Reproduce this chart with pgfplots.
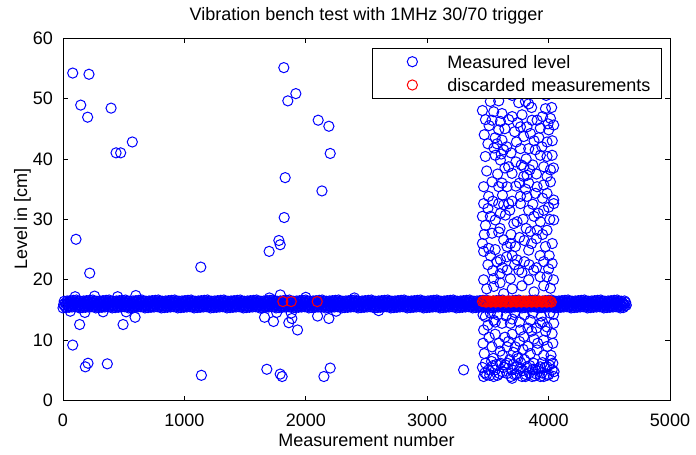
\documentclass[border=0pt]{standalone}
\usepackage{fontspec}
\setmainfont{Liberation Sans}
\usepackage{pgfplots}
\pgfplotsset{compat=1.18}
\definecolor{mblue}{RGB}{0,0,255}
\definecolor{mred}{RGB}{255,0,0}
\pgfplotsset{
  mylegimg/.style={legend image code/.code={\path[draw=none,fill=none] (0bp,-5bp) rectangle (58bp,5bp); \draw[##1] plot coordinates {(33.6bp,0bp)};}},
  bluemark/.style={mblue, only marks, mark=o, mark size=5.1bp, line width=1bp, mylegimg},
  redmark/.style={mred, only marks, mark=o, mark size=5.1bp, line width=1bp, mylegimg},
}
\begin{document}
\fontsize{18bp}{21bp}\selectfont
\begin{tikzpicture}
\useasboundingbox (0,0) rectangle (696bp,455bp);
\begin{axis}[
  at={(63bp,54.3bp)}, anchor=south west,
  scale only axis, width=607bp, height=362.7bp,
  xmin=0, xmax=5000, ymin=0, ymax=60,
  xtick={0,1000,2000,3000,4000,5000}, ytick={0,10,20,30,40,50,60},
  scaled ticks=false,
  tick align=inside, major tick length=5bp,
  axis line style={line width=0.8bp, black},
  every tick/.style={black, line width=0.7bp},
  /pgf/number format/assume math mode=true,
  /pgf/number format/1000 sep={},
  ticklabel style={font=\fontsize{18bp}{21bp}\selectfont, inner sep=0pt},
  xticklabel style={yshift=-12.6bp},
  yticklabel style={xshift=-10bp},
  title={Vibration bench test with 1MHz 30/70 trigger},
  title style={at={(axis description cs:0.5,1.0331)}, anchor=base, yshift=0pt, inner sep=0pt, font=\fontsize{18bp}{21bp}\selectfont},
  xlabel={Measurement number},
  xlabel style={at={(axis description cs:0.5,-0.1268)}, anchor=base, inner sep=0pt, font=\fontsize{18bp}{21bp}\selectfont},
  ylabel={Level in [cm]},
  ylabel style={at={(axis description cs:-0.0593,0.5)}, anchor=base, inner sep=0pt, font=\fontsize{18bp}{21bp}\selectfont},
  legend cell align=left,
  legend style={at={(axis description cs:0.98633,0.97326)}, anchor=north east,
    draw=black, line width=0.7bp, fill=white,
    inner xsep=6bp, inner ysep=3.9bp, row sep=3.8bp,
    font=\fontsize{18bp}{21bp}\selectfont,
    nodes={inner sep=0pt, text height=16.5bp, text depth=3bp, text width=208bp, align=left},
    /tikz/every odd column/.style={column sep=10.6bp},
    /tikz/every even column/.style={column sep=0pt}},
]
% main band
\addplot[bluemark] coordinates {
(0,15.35)(5,15.90)(10,16.45)(15,15.65)(20,16.20)(25,15.40)(30,15.95)(35,16.50)(40,15.70)(45,16.25)(50,15.45)(55,16.00)(60,16.55)(65,15.75)(70,16.30)(75,15.50)(80,16.05)(85,16.60)(90,15.80)(95,16.35)(100,15.55)(105,16.10)(110,16.65)(115,15.85)(120,16.40)(125,15.60)(130,16.15)
(135,15.35)(140,15.90)(145,16.45)(150,15.65)(155,16.20)(160,15.40)(165,15.95)(170,16.50)(175,15.70)(180,16.25)(185,15.45)(190,16.00)(195,16.55)(200,15.75)(205,16.30)(210,15.50)(215,16.05)(220,16.60)(225,15.80)(230,16.35)(235,15.55)(240,16.10)(245,16.65)(250,15.85)(255,16.40)(260,15.60)(265,16.15)
(270,15.35)(275,15.90)(280,16.45)(285,15.65)(290,16.20)(295,15.40)(300,15.95)(305,16.50)(310,15.70)(315,16.25)(320,15.45)(325,16.00)(330,16.55)(335,15.75)(340,16.30)(345,15.50)(350,16.05)(355,16.60)(360,15.80)(365,16.35)(370,15.55)(375,16.10)(380,16.65)(385,15.85)(390,16.40)(395,15.60)(400,16.15)
(405,15.35)(410,15.90)(415,16.45)(420,15.65)(425,16.20)(430,15.40)(435,15.95)(440,16.50)(445,15.70)(450,16.25)(455,15.45)(460,16.00)(465,16.55)(470,15.75)(475,16.30)(480,15.50)(485,16.05)(490,16.60)(495,15.80)(500,16.35)(505,15.55)(510,16.10)(515,16.65)(520,15.85)(525,16.40)(530,15.60)(535,16.15)
(540,15.35)(545,15.90)(550,16.45)(555,15.65)(560,16.20)(565,15.40)(570,15.95)(575,16.50)(580,15.70)(585,16.25)(590,15.45)(595,16.00)(600,16.55)(605,15.75)(610,16.30)(615,15.50)(620,16.05)(625,16.60)(630,15.80)(635,16.35)(640,15.55)(645,16.10)(650,16.65)(655,15.85)(660,16.40)(665,15.60)(670,16.15)
(675,15.35)(680,15.90)(685,16.45)(690,15.65)(695,16.20)(700,15.40)(705,15.95)(710,16.50)(715,15.70)(720,16.25)(725,15.45)(730,16.00)(735,16.55)(740,15.75)(745,16.30)(750,15.50)(755,16.05)(760,16.60)(765,15.80)(770,16.35)(775,15.55)(780,16.10)(785,16.65)(790,15.85)(795,16.40)(800,15.60)(805,16.15)
(810,15.35)(815,15.90)(820,16.45)(825,15.65)(830,16.20)(835,15.40)(840,15.95)(845,16.50)(850,15.70)(855,16.25)(860,15.45)(865,16.00)(870,16.55)(875,15.75)(880,16.30)(885,15.50)(890,16.05)(895,16.60)(900,15.80)(905,16.35)(910,15.55)(915,16.10)(920,16.65)(925,15.85)(930,16.40)(935,15.60)(940,16.15)
(945,15.35)(950,15.90)(955,16.45)(960,15.65)(965,16.20)(970,15.40)(975,15.95)(980,16.50)(985,15.70)(990,16.25)(995,15.45)(1000,16.00)(1005,16.55)(1010,15.75)(1015,16.30)(1020,15.50)(1025,16.05)(1030,16.60)(1035,15.80)(1040,16.35)(1045,15.55)(1050,16.10)(1055,16.65)(1060,15.85)(1065,16.40)(1070,15.60)(1075,16.15)
(1080,15.35)(1085,15.90)(1090,16.45)(1095,15.65)(1100,16.20)(1105,15.40)(1110,15.95)(1115,16.50)(1120,15.70)(1125,16.25)(1130,15.45)(1135,16.00)(1140,16.55)(1145,15.75)(1150,16.30)(1155,15.50)(1160,16.05)(1165,16.60)(1170,15.80)(1175,16.35)(1180,15.55)(1185,16.10)(1190,16.65)(1195,15.85)(1200,16.40)(1205,15.60)(1210,16.15)
(1215,15.35)(1220,15.90)(1225,16.45)(1230,15.65)(1235,16.20)(1240,15.40)(1245,15.95)(1250,16.50)(1255,15.70)(1260,16.25)(1265,15.45)(1270,16.00)(1275,16.55)(1280,15.75)(1285,16.30)(1290,15.50)(1295,16.05)(1300,16.60)(1305,15.80)(1310,16.35)(1315,15.55)(1320,16.10)(1325,16.65)(1330,15.85)(1335,16.40)(1340,15.60)(1345,16.15)
(1350,15.35)(1355,15.90)(1360,16.45)(1365,15.65)(1370,16.20)(1375,15.40)(1380,15.95)(1385,16.50)(1390,15.70)(1395,16.25)(1400,15.45)(1405,16.00)(1410,16.55)(1415,15.75)(1420,16.30)(1425,15.50)(1430,16.05)(1435,16.60)(1440,15.80)(1445,16.35)(1450,15.55)(1455,16.10)(1460,16.65)(1465,15.85)(1470,16.40)(1475,15.60)(1480,16.15)
(1485,15.35)(1490,15.90)(1495,16.45)(1500,15.65)(1505,16.20)(1510,15.40)(1515,15.95)(1520,16.50)(1525,15.70)(1530,16.25)(1535,15.45)(1540,16.00)(1545,16.55)(1550,15.75)(1555,16.30)(1560,15.50)(1565,16.05)(1570,16.60)(1575,15.80)(1580,16.35)(1585,15.55)(1590,16.10)(1595,16.65)(1600,15.85)(1605,16.40)(1610,15.60)(1615,16.15)
(1620,15.35)(1625,15.90)(1630,16.45)(1635,15.65)(1640,16.20)(1645,15.40)(1650,15.95)(1655,16.50)(1660,15.70)(1665,16.25)(1670,15.45)(1675,16.00)(1680,16.55)(1685,15.75)(1690,16.30)(1695,15.50)(1700,16.05)(1705,16.60)(1710,15.80)(1715,16.35)(1720,15.55)(1725,16.10)(1730,16.65)(1735,15.85)(1740,16.40)(1745,15.60)(1750,16.15)
(1755,15.35)(1760,15.90)(1765,16.45)(1770,15.65)(1775,16.20)(1780,15.40)(1785,15.95)(1790,16.50)(1795,15.70)(1800,16.25)(1805,15.45)(1810,16.00)(1815,16.55)(1820,15.75)(1825,16.30)(1830,15.50)(1835,16.05)(1840,16.60)(1845,15.80)(1850,16.35)(1855,15.55)(1860,16.10)(1865,16.65)(1870,15.85)(1875,16.40)(1880,15.60)(1885,16.15)
(1890,15.35)(1895,15.90)(1900,16.45)(1905,15.65)(1910,16.20)(1915,15.40)(1920,15.95)(1925,16.50)(1930,15.70)(1935,16.25)(1940,15.45)(1945,16.00)(1950,16.55)(1955,15.75)(1960,16.30)(1965,15.50)(1970,16.05)(1975,16.60)(1980,15.80)(1985,16.35)(1990,15.55)(1995,16.10)(2000,16.65)(2005,15.85)(2010,16.40)(2015,15.60)(2020,16.15)
(2025,15.35)(2030,15.90)(2035,16.45)(2040,15.65)(2045,16.20)(2050,15.40)(2055,15.95)(2060,16.50)(2065,15.70)(2070,16.25)(2075,15.45)(2080,16.00)(2085,16.55)(2090,15.75)(2095,16.30)(2100,15.50)(2105,16.05)(2110,16.60)(2115,15.80)(2120,16.35)(2125,15.55)(2130,16.10)(2135,16.65)(2140,15.85)(2145,16.40)(2150,15.60)(2155,16.15)
(2160,15.35)(2165,15.90)(2170,16.45)(2175,15.65)(2180,16.20)(2185,15.40)(2190,15.95)(2195,16.50)(2200,15.70)(2205,16.25)(2210,15.45)(2215,16.00)(2220,16.55)(2225,15.75)(2230,16.30)(2235,15.50)(2240,16.05)(2245,16.60)(2250,15.80)(2255,16.35)(2260,15.55)(2265,16.10)(2270,16.65)(2275,15.85)(2280,16.40)(2285,15.60)(2290,16.15)
(2295,15.35)(2300,15.90)(2305,16.45)(2310,15.65)(2315,16.20)(2320,15.40)(2325,15.95)(2330,16.50)(2335,15.70)(2340,16.25)(2345,15.45)(2350,16.00)(2355,16.55)(2360,15.75)(2365,16.30)(2370,15.50)(2375,16.05)(2380,16.60)(2385,15.80)(2390,16.35)(2395,15.55)(2400,16.10)(2405,16.65)(2410,15.85)(2415,16.40)(2420,15.60)(2425,16.15)
(2430,15.35)(2435,15.90)(2440,16.45)(2445,15.65)(2450,16.20)(2455,15.40)(2460,15.95)(2465,16.50)(2470,15.70)(2475,16.25)(2480,15.45)(2485,16.00)(2490,16.55)(2495,15.75)(2500,16.30)(2505,15.50)(2510,16.05)(2515,16.60)(2520,15.80)(2525,16.35)(2530,15.55)(2535,16.10)(2540,16.65)(2545,15.85)(2550,16.40)(2555,15.60)(2560,16.15)
(2565,15.35)(2570,15.90)(2575,16.45)(2580,15.65)(2585,16.20)(2590,15.40)(2595,15.95)(2600,16.50)(2605,15.70)(2610,16.25)(2615,15.45)(2620,16.00)(2625,16.55)(2630,15.75)(2635,16.30)(2640,15.50)(2645,16.05)(2650,16.60)(2655,15.80)(2660,16.35)(2665,15.55)(2670,16.10)(2675,16.65)(2680,15.85)(2685,16.40)(2690,15.60)(2695,16.15)
(2700,15.35)(2705,15.90)(2710,16.45)(2715,15.65)(2720,16.20)(2725,15.40)(2730,15.95)(2735,16.50)(2740,15.70)(2745,16.25)(2750,15.45)(2755,16.00)(2760,16.55)(2765,15.75)(2770,16.30)(2775,15.50)(2780,16.05)(2785,16.60)(2790,15.80)(2795,16.35)(2800,15.55)(2805,16.10)(2810,16.65)(2815,15.85)(2820,16.40)(2825,15.60)(2830,16.15)
(2835,15.35)(2840,15.90)(2845,16.45)(2850,15.65)(2855,16.20)(2860,15.40)(2865,15.95)(2870,16.50)(2875,15.70)(2880,16.25)(2885,15.45)(2890,16.00)(2895,16.55)(2900,15.75)(2905,16.30)(2910,15.50)(2915,16.05)(2920,16.60)(2925,15.80)(2930,16.35)(2935,15.55)(2940,16.10)(2945,16.65)(2950,15.85)(2955,16.40)(2960,15.60)(2965,16.15)
(2970,15.35)(2975,15.90)(2980,16.45)(2985,15.65)(2990,16.20)(2995,15.40)(3000,15.95)(3005,16.50)(3010,15.70)(3015,16.25)(3020,15.45)(3025,16.00)(3030,16.55)(3035,15.75)(3040,16.30)(3045,15.50)(3050,16.05)(3055,16.60)(3060,15.80)(3065,16.35)(3070,15.55)(3075,16.10)(3080,16.65)(3085,15.85)(3090,16.40)(3095,15.60)(3100,16.15)
(3105,15.35)(3110,15.90)(3115,16.45)(3120,15.65)(3125,16.20)(3130,15.40)(3135,15.95)(3140,16.50)(3145,15.70)(3150,16.25)(3155,15.45)(3160,16.00)(3165,16.55)(3170,15.75)(3175,16.30)(3180,15.50)(3185,16.05)(3190,16.60)(3195,15.80)(3200,16.35)(3205,15.55)(3210,16.10)(3215,16.65)(3220,15.85)(3225,16.40)(3230,15.60)(3235,16.15)
(3240,15.35)(3245,15.90)(3250,16.45)(3255,15.65)(3260,16.20)(3265,15.40)(3270,15.95)(3275,16.50)(3280,15.70)(3285,16.25)(3290,15.45)(3295,16.00)(3300,16.55)(3305,15.75)(3310,16.30)(3315,15.50)(3320,16.05)(3325,16.60)(3330,15.80)(3335,16.35)(3340,15.55)(3345,16.10)(3350,16.65)(3355,15.85)(3360,16.40)(3365,15.60)(3370,16.15)
(3375,15.35)(3380,15.90)(3385,16.45)(3390,15.65)(3395,16.20)(3400,15.40)(3405,15.95)(3410,16.50)(3415,15.70)(3420,16.25)(3425,15.45)(3430,16.00)(3435,16.55)(3440,15.75)(3445,16.30)(3450,15.50)(3455,16.05)(3460,16.60)(3465,15.80)(3470,16.35)(3475,15.55)(3480,16.10)(3485,16.65)(3490,15.85)(3495,16.40)(3500,15.60)(3505,16.15)
(3510,15.35)(3515,15.90)(3520,16.45)(3525,15.65)(3530,16.20)(3535,15.40)(3540,15.95)(3545,16.50)(3550,15.70)(3555,16.25)(3560,15.45)(3565,16.00)(3570,16.55)(3575,15.75)(3580,16.30)(3585,15.50)(3590,16.05)(3595,16.60)(3600,15.80)(3605,16.35)(3610,15.55)(3615,16.10)(3620,16.65)(3625,15.85)(3630,16.40)(3635,15.60)(3640,16.15)
(3645,15.35)(3650,15.90)(3655,16.45)(3660,15.65)(3665,16.20)(3670,15.40)(3675,15.95)(3680,16.50)(3685,15.70)(3690,16.25)(3695,15.45)(3700,16.00)(3705,16.55)(3710,15.75)(3715,16.30)(3720,15.50)(3725,16.05)(3730,16.60)(3735,15.80)(3740,16.35)(3745,15.55)(3750,16.10)(3755,16.65)(3760,15.85)(3765,16.40)(3770,15.60)(3775,16.15)
(3780,15.35)(3785,15.90)(3790,16.45)(3795,15.65)(3800,16.20)(3805,15.40)(3810,15.95)(3815,16.50)(3820,15.70)(3825,16.25)(3830,15.45)(3835,16.00)(3840,16.55)(3845,15.75)(3850,16.30)(3855,15.50)(3860,16.05)(3865,16.60)(3870,15.80)(3875,16.35)(3880,15.55)(3885,16.10)(3890,16.65)(3895,15.85)(3900,16.40)(3905,15.60)(3910,16.15)
(3915,15.35)(3920,15.90)(3925,16.45)(3930,15.65)(3935,16.20)(3940,15.40)(3945,15.95)(3950,16.50)(3955,15.70)(3960,16.25)(3965,15.45)(3970,16.00)(3975,16.55)(3980,15.75)(3985,16.30)(3990,15.50)(3995,16.05)(4000,16.60)(4005,15.80)(4010,16.35)(4015,15.55)(4020,16.10)(4025,16.65)(4030,15.85)(4035,16.40)(4040,15.60)(4045,16.15)
(4050,15.35)(4055,15.90)(4060,16.45)(4065,15.65)(4070,16.20)(4075,15.40)(4080,15.95)(4085,16.50)(4090,15.70)(4095,16.25)(4100,15.45)(4105,16.00)(4110,16.55)(4115,15.75)(4120,16.30)(4125,15.50)(4130,16.05)(4135,16.60)(4140,15.80)(4145,16.35)(4150,15.55)(4155,16.10)(4160,16.65)(4165,15.85)(4170,16.40)(4175,15.60)(4180,16.15)
(4185,15.35)(4190,15.90)(4195,16.45)(4200,15.65)(4205,16.20)(4210,15.40)(4215,15.95)(4220,16.50)(4225,15.70)(4230,16.25)(4235,15.45)(4240,16.00)(4245,16.55)(4250,15.75)(4255,16.30)(4260,15.50)(4265,16.05)(4270,16.60)(4275,15.80)(4280,16.35)(4285,15.55)(4290,16.10)(4295,16.65)(4300,15.85)(4305,16.40)(4310,15.60)(4315,16.15)
(4320,15.35)(4325,15.90)(4330,16.45)(4335,15.65)(4340,16.20)(4345,15.40)(4350,15.95)(4355,16.50)(4360,15.70)(4365,16.25)(4370,15.45)(4375,16.00)(4380,16.55)(4385,15.75)(4390,16.30)(4395,15.50)(4400,16.05)(4405,16.60)(4410,15.80)(4415,16.35)(4420,15.55)(4425,16.10)(4430,16.65)(4435,15.85)(4440,16.40)(4445,15.60)(4450,16.15)
(4455,15.35)(4460,15.90)(4465,16.45)(4470,15.65)(4475,16.20)(4480,15.40)(4485,15.95)(4490,16.50)(4495,15.70)(4500,16.25)(4505,15.45)(4510,16.00)(4515,16.55)(4520,15.75)(4525,16.30)(4530,15.50)(4535,16.05)(4540,16.60)(4545,15.80)(4550,16.35)(4555,15.55)(4560,16.10)(4565,16.65)(4570,15.85)(4575,16.40)(4580,15.60)(4585,16.15)
(4590,15.35)(4595,15.90)(4600,16.45)(4605,15.65)(4610,16.20)(4615,15.40)(4620,15.95)(4625,16.50)(4630,15.70)(4635,16.25)(4640,15.80)
};
\addlegendentry{Measured level}
% outliers, early part
\addplot[bluemark, forget plot] coordinates {
(80,54.2)(214,54.0)(146,48.9)(203,46.9)(396,48.4)(437,41.0)(475,41.0)(571,42.8)
(107,26.7)(220,21.1)(137,12.6)(80,9.2)(184,5.6)(206,6.2)(365,6.1)(495,12.6)(594,13.8)
(100,17.2)(180,14.6)(260,17.3)(330,14.7)(450,17.2)(600,17.4)(520,14.7)(60,14.8)
(1135,22.1)(1140,4.2)
(1819,55.1)(1918,50.8)(1852,49.6)(2102,46.4)(2190,45.4)(2201,40.9)(1830,36.9)(2133,34.7)
(1822,30.3)(1778,26.5)(1789,25.8)(1698,24.7)
(1679,5.2)(1789,4.4)(1805,4.0)(2149,4.0)(2201,5.4)
(1660,13.8)(1734,13.1)(1860,12.9)(1932,11.7)(2097,14.0)(2190,13.6)(1885,13.6)
(1790,17.5)(1700,17.0)(1880,14.5)(2000,17.1)(2250,14.8)(2400,17.0)(2600,14.9)(1760,14.6)
(3300,5.1)
};
% dense cloud, upper part
\addplot[bluemark, forget plot] coordinates {
(3540,51.0)(3700,50.5)(3850,51.5)(3980,50.5)
(3520,49.5)(3589,49.6)(3754,49.3)(3809,49.5)(3836,49.1)(3974,48.3)(3548,47.8)(3616,47.5)
(3534,46.4)(3603,46.2)(3671,46.5)(3781,47.3)(3768,45.3)(3822,45.3)(3864,46.4)(3905,46.4)
(4015,46.7)(4042,45.6)(3589,44.8)(3616,43.1)(3795,43.7)(3850,44.2)(3932,45.1)(4001,44.8)
(3987,42.8)(3768,41.7)(3836,41.7)(3630,41.5)(3479,40.4)(3561,40.6)(3603,39.8)(3671,38.7)
(3932,40.6)(3987,40.4)(4029,40.6)(3795,38.7)(3699,37.6)(3822,37.3)(3960,38.7)(4015,38.2)
(3987,37.1)(3465,35.4)(3534,36.2)(3589,35.4)(3616,36.0)(3658,35.4)(3795,37.1)(3836,36.0)
(3905,35.4)(3960,35.7)(4015,36.2)(3506,33.8)(3589,32.6)(3630,32.4)(3671,32.6)(3768,33.8)
(3822,33.8)(3891,34.3)(3987,34.3)(4042,33.2)(3465,32.6)(3768,32.6)(3836,31.5)(3603,31.0)
(3644,30.7)(3561,29.9)(3713,29.3)(3740,29.6)(3960,31.5)(4042,32.6)(4042,29.9)(3905,28.2)
(3987,28.2)(3932,29.6)(3534,27.7)(3589,27.9)(3630,26.6)(3685,26.0)(3726,25.5)(3465,24.7)
(3506,25.2)(3658,25.5)(3836,24.9)(3974,25.5)(3603,23.3)(3740,23.3)(3465,20.0)(3548,20.2)
(3658,21.6)(3685,20.2)(3754,21.6)(3877,21.6)(3987,20.5)(4029,22.7)(4015,18.6)(3630,17.7)
(3548,18.9)(3836,20.0)
(3470,44.0)(3500,42.5)(3560,43.5)(3640,45.0)(3700,47.0)(3720,44.5)(3745,46.0)(3860,48.5)
(3880,43.0)(3950,47.0)(4030,43.0)(3490,38.0)(3580,37.5)(3640,38.5)(3730,39.5)(3760,36.0)
(3870,39.0)(3900,37.5)(4040,38.5)(3480,29.0)(3520,30.5)(3600,28.5)(3680,31.5)(3790,30.0)
(3850,28.0)(3880,30.5)(4010,30.0)(3470,27.5)(3560,25.0)(3700,24.0)(3800,26.5)(3860,26.0)
(3930,24.0)(4030,26.0)(3500,22.5)(3620,22.0)(3720,22.5)(3800,23.0)(3900,22.0)(3960,23.0)
(3490,18.5)(3600,19.5)(3700,18.5)(3780,19.0)(3880,18.0)(3960,19.0)(4040,20.0)
(3455,48.0)(3480,46.5)(3510,45.5)(3550,41.8)(3575,42.5)(3610,40.8)(3655,42.0)(3690,41.0)
(3735,42.8)(3775,39.0)(3815,40.0)(3845,38.2)(3890,41.5)(3920,43.5)(3945,42.0)(3995,45.8)
(4025,48.5)(3455,30.5)(3500,31.8)(3540,33.0)(3620,34.0)(3700,33.0)(3730,35.5)(3810,35.0)
(3870,32.5)(3915,31.0)(3950,33.5)(4000,32.0)(3455,26.0)(3520,24.0)(3575,23.0)(3655,23.8)
(3690,27.5)(3760,27.0)(3815,28.5)(3900,26.8)(3950,27.5)(4005,24.0)(3540,21.5)(3600,21.0)
(3780,21.2)(3840,22.5)(3930,20.5)(4000,21.8)
};
% dense cloud, lower part
\addplot[bluemark, forget plot] coordinates {
(3479,13.9)(3548,13.3)(3616,12.8)(3685,12.8)(3768,11.7)(3795,10.6)(3850,13.3)(3932,12.8)
(3987,12.2)(4042,12.8)(3465,11.7)(3534,8.9)(3658,8.9)(3726,8.9)(3905,8.4)(3960,10.0)
(4029,11.1)(4015,6.7)(3932,5.6)(3479,6.2)(3506,5.1)(3548,4.0)(3603,6.2)(3658,4.5)
(3699,5.1)(3740,7.3)(3781,4.0)(3822,5.6)(3877,6.2)(3864,4.0)(3932,4.0)(3987,5.6)
(4042,4.0)(3465,4.0)(3644,5.9)(3740,5.6)(3960,4.0)(4029,5.1)(3809,4.0)(3561,5.1)
(3699,3.7)(3891,5.1)
(3490,4.3)(3530,6.5)(3580,4.2)(3620,4.8)(3680,6.8)(3720,4.3)(3760,5.2)(3800,6.8)
(3840,4.6)(3900,4.4)(3950,6.3)(4000,4.3)(4020,7.5)(3470,7.8)(3590,9.5)(3640,10.5)
(3700,11.0)(3760,9.8)(3830,9.0)(3880,10.2)(3990,9.0)(3520,14.5)(3580,14.2)(3650,14.0)
(3720,14.6)(3800,14.2)(3870,14.5)(3940,14.0)(4010,14.5)(3500,12.5)(3900,12.0)(3560,11.0)
(3960,7.5)(3620,7.5)(3850,7.8)
(3455,5.5)(3475,4.6)(3515,4.2)(3540,5.8)(3570,6.0)(3595,4.5)(3630,5.5)(3660,6.2)
(3690,4.0)(3710,6.0)(3735,4.4)(3770,6.3)(3790,5.0)(3815,4.3)(3845,5.8)(3870,5.2)
(3885,4.1)(3915,5.3)(3945,4.6)(3970,5.5)(3985,4.2)(4005,5.9)(4035,6.2)(4045,4.8)
(3460,9.5)(3510,10.5)(3545,7.0)(3600,8.2)(3670,9.8)(3710,8.0)(3750,7.0)(3790,8.5)
(3860,11.5)(3910,9.5)(3975,11.5)(4035,9.5)(3460,14.2)(3560,13.0)(3700,13.5)(3760,13.0)
(3830,12.0)(3950,13.0)(4040,14.3)
};
% discarded measurements
\addplot[redmark] coordinates {
(1811,16.4)(1880,16.4)(2094,16.4)
(3455,16.4)(3465,16.5)(3475,16.4)(3485,16.3)(3495,16.4)(3505,16.5)(3515,16.4)(3525,16.3)
(3535,16.4)(3545,16.5)(3555,16.4)(3565,16.3)(3575,16.4)(3585,16.5)(3595,16.4)(3605,16.3)
(3615,16.4)(3625,16.5)(3640,16.4)(3650,16.3)(3660,16.4)(3670,16.5)(3680,16.4)(3690,16.3)
(3700,16.4)(3712,16.5)(3725,16.4)(3735,16.3)(3745,16.4)(3755,16.5)(3765,16.4)(3775,16.3)
(3785,16.4)(3795,16.5)(3805,16.4)(3818,16.3)(3830,16.4)(3840,16.5)(3850,16.4)(3860,16.3)
(3870,16.4)(3880,16.5)(3890,16.4)(3900,16.3)(3910,16.4)(3922,16.5)(3935,16.4)(3945,16.3)
(3955,16.4)(3965,16.5)(3975,16.4)(3985,16.3)(3995,16.4)(4005,16.5)(4015,16.4)(4023,16.3)
};
\addlegendentry{discarded measurements}
\end{axis}
\end{tikzpicture}
\end{document}
